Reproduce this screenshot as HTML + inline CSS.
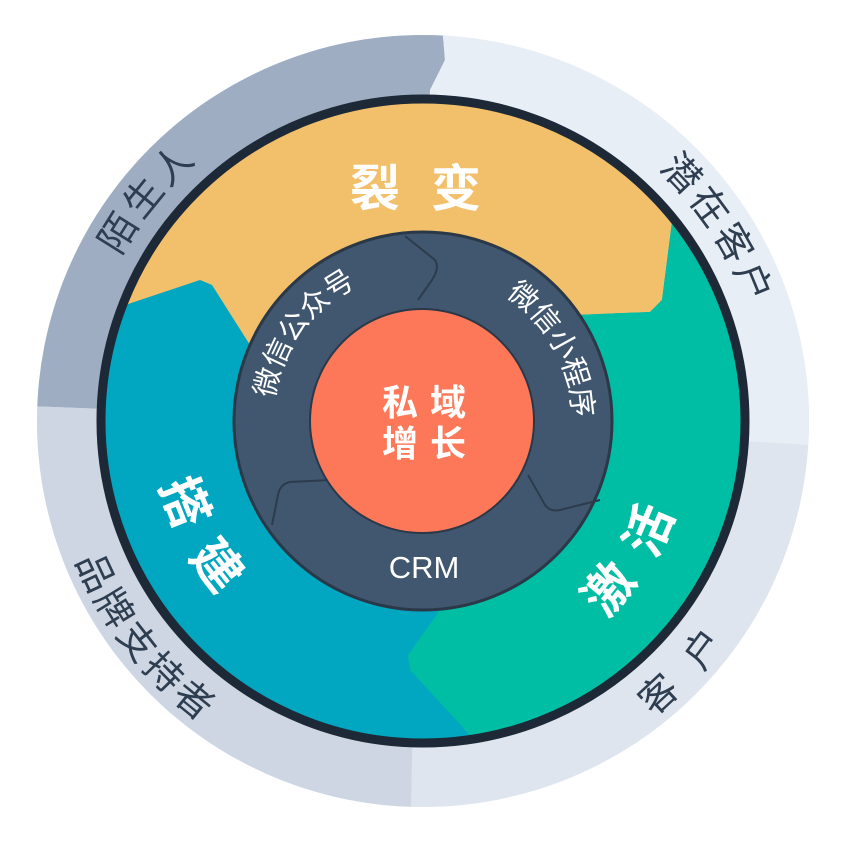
<!DOCTYPE html>
<html><head><meta charset="utf-8"><style>html,body{margin:0;padding:0;background:#fff}svg{display:block}</style></head>
<body>
<svg width="844" height="843" viewBox="0 0 844 843" xmlns="http://www.w3.org/2000/svg" font-family="'Liberation Sans','Noto Sans CJK SC',sans-serif">
<defs>
<clipPath id="outer"><circle cx="423" cy="421" r="386"/></clipPath>
<clipPath id="inner"><circle cx="423" cy="421" r="320"/></clipPath>
<path id="a1" d="M78,421 A345,345 0 0 1 351,84"/>
<path id="a2" d="M524,91 A345,345 0 0 1 765,463"/>
<path id="a3" d="M49,408 A374,374 0 0 0 345,787"/>
<path id="a4" d="M475,791 A374,374 0 0 0 797,434"/>
<path id="b1" d="M158,374 A268,268 0 0 0 331,673"/>
<path id="b2" d="M510,674 A268,268 0 0 0 688,379"/>
<path id="c1" d="M273,431 A150,150 0 0 1 387,275"/>
<path id="c2" d="M477,281 A150,150 0 0 1 570,450"/>
</defs>
<g clip-path="url(#outer)">
<rect x="0" y="0" width="844" height="843" fill="#dfe5ee"/>
<polygon points="0,0 440,0 445,60 430,90 420,421 0,405" fill="#9eadc2"/>
<polygon points="440,0 844,0 844,440 810,445 420,421 430,90 445,60" fill="#e8eef6"/>
<polygon points="0,405 420,421 410,843 0,843" fill="#cdd6e2"/>
</g>
<circle cx="423" cy="421" r="323" fill="#01a6c0" stroke="#1d2936" stroke-width="7"/>
<g clip-path="url(#inner)">
<polygon points="50,330 50,0 800,0 800,100 672,222 662,300 650,312 575,315 422,421 250,345 212,285 200,280" fill="#f2c06a"/>
<polygon points="672,222 800,100 844,843 480,843 470,735 410,670 408,655 440,610 422,421 575,315 650,312 662,300" fill="#00bea4"/>
</g>
<circle cx="423" cy="421" r="319" fill="none" stroke="#1d2936" stroke-width="3"/>
<circle cx="423" cy="421" r="189" fill="#41576f" stroke="#2a3848" stroke-width="3"/>
<path d="M405,236 L435,260 Q440,268 432,280 L418,300" fill="none" stroke="#2d3c4c" stroke-width="2"/>
<path d="M528,475 L545,505 Q550,512 560,510 L600,500" fill="none" stroke="#2d3c4c" stroke-width="2"/>
<path d="M330,480 L290,482 Q280,484 278,495 L272,525" fill="none" stroke="#2d3c4c" stroke-width="2"/>
<circle cx="422" cy="421" r="112" fill="#fd7858" stroke="#2a3848" stroke-width="2"/>
<g fill="#2e3e50" font-size="38">
<text><textPath href="#a1" startOffset="50%" text-anchor="middle" letter-spacing="4">陌生人</textPath></text>
<text><textPath href="#a2" startOffset="50%" text-anchor="middle" letter-spacing="4">潜在客户</textPath></text>
<text><textPath href="#a3" startOffset="50%" text-anchor="middle" letter-spacing="4">品牌支持者</textPath></text>
<text><textPath href="#a4" startOffset="50%" text-anchor="middle" letter-spacing="28">客户</textPath></text>
</g>
<g fill="#fff" font-weight="bold" font-size="50">
<text x="375" y="206" text-anchor="middle">裂</text>
<text x="456" y="206" text-anchor="middle">变</text>
<text><textPath href="#b1" startOffset="50%" text-anchor="middle" letter-spacing="26">搭建</textPath></text>
<text><textPath href="#b2" startOffset="50%" text-anchor="middle" letter-spacing="26">激活</textPath></text>
</g>
<g fill="#fff" font-size="29">
<text><textPath href="#c1" startOffset="50%" text-anchor="middle">微信公众号</textPath></text>
<text><textPath href="#c2" startOffset="50%" text-anchor="middle">微信小程序</textPath></text>
<text x="424" y="578" text-anchor="middle" font-size="31">CRM</text>
</g>
<g fill="#fff" font-weight="bold" font-size="36">
<text x="400" y="415" text-anchor="middle">私</text>
<text x="448" y="415" text-anchor="middle">域</text>
<text x="400" y="456" text-anchor="middle">增</text>
<text x="448" y="456" text-anchor="middle">长</text>
</g>
</svg>
</body></html>
